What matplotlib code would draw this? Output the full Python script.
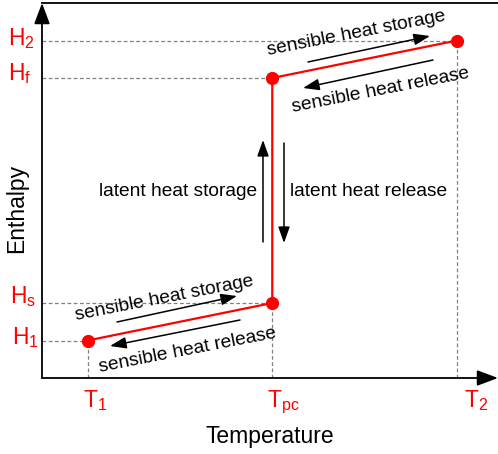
import matplotlib
matplotlib.use('Agg')
from matplotlib import pyplot as plt

plt.rcParams['font.family'] = ['Liberation Sans', 'DejaVu Sans']
plt.rcParams['mathtext.fontset'] = 'custom'
plt.rcParams['mathtext.rm'] = 'Liberation Sans'
plt.rcParams['mathtext.it'] = 'Liberation Sans'

# state points (temperature, enthalpy)
temps = [1.0, 5.05, 5.05, 9.1]
enthalpy = [1.0, 2.0, 8.0, 9.0]
x_ticks = [1.0, 5.05, 9.1]
x_labels = ['T$_1$', 'T$_{pc}$', 'T$_2$']
y_ticks = [1.0, 2.0, 8.0, 9.0]
y_labels = ['H$_1$', 'H$_s$', 'H$_f$', 'H$_2$']

fig = plt.figure(figsize=(4.98, 4.54), dpi=100)
ax = fig.add_axes([42/498, 76/454, 456/498, 375/454])
ax.set_xlim(0, 10)
ax.set_ylim(0, 10)

# dashed guide lines
for i in [0, 1, 2, 3]:
  ax.plot([0, temps[i]], [enthalpy[i], enthalpy[i]], ls=(0, (3, 2)), color='grey', lw=0.9)
for i in [0, 1, 3]:
  ax.plot([temps[i], temps[i]], [0, enthalpy[i]], ls=(0, (3, 2)), color='grey', lw=0.9)

ax.plot(temps, enthalpy, color='red', lw=1.6, zorder=3)
ax.plot([temps[0], temps[1], temps[2], temps[3]], [enthalpy[0], enthalpy[1], enthalpy[2], enthalpy[3]],
        ls='none', marker='o', ms=8.5, color='red', zorder=4)

# tick labels placed by hand (no tick marks)
ax.set_xticks([])
ax.set_yticks([])
x_off = [(-5, -29), (-5, -29), (7, -29)]
for t, lab, off in zip(x_ticks, x_labels, x_off):
  ax.annotate(lab, xy=(t, 0), xycoords=('data', 'axes fraction'), xytext=off, textcoords='offset pixels',
              color='red', fontsize=16.5, ha='left', va='baseline', annotation_clip=False)
y_off = [(-30, -4), (-32, 0), (-34, -2), (-34, -5)]
for h, lab, off in zip(y_ticks, y_labels, y_off):
  ax.annotate(lab, xy=(0, h), xycoords=('axes fraction', 'data'), xytext=off, textcoords='offset pixels',
              color='red', fontsize=16.5, ha='left', va='baseline', annotation_clip=False)

fig.text(270/498, 1 - 437/454, 'Temperature', fontsize=16.5, ha='center', va='center')
fig.text(17/498, 1 - 208/454, 'Enthalpy', fontsize=16.5, ha='center', va='center', rotation=90)

ax.spines['right'].set_visible(False)
ax.spines['left'].set_visible(False)
ax.spines['bottom'].set_visible(False)
ax.spines['top'].set_linewidth(1.3)

# axes with arrow heads
axis_arr = dict(arrowstyle='-|>,head_length=0.8,head_width=0.3', color='black', lw=1.3,
                mutation_scale=16, shrinkA=0, shrinkB=0)
ax.annotate('', xy=(0, 1.0), xytext=(0, 0), xycoords='axes fraction', arrowprops=axis_arr, annotation_clip=False)
ax.annotate('', xy=(1.0, 0), xytext=(0, 0), xycoords='axes fraction', arrowprops=axis_arr, annotation_clip=False)

# process arrows
arr = dict(arrowstyle='-|>,head_length=0.7,head_width=0.25', color='black', lw=1.1, mutation_scale=14, shrinkA=0, shrinkB=0)
def px(x, y):
  return ((x - 42) / 456 * 10, (378 - y) / 375 * 10)

ax.annotate('', xy=px(430, 36), xytext=px(308, 62), arrowprops=arr)
ax.annotate('', xy=px(303, 88), xytext=px(433, 60), arrowprops=arr)
ax.annotate('', xy=px(237, 296), xytext=px(117, 322), arrowprops=arr)
ax.annotate('', xy=px(110, 346), xytext=px(240, 320), arrowprops=arr)
ax.annotate('', xy=px(263, 140), xytext=px(263, 242), arrowprops=arr)
ax.annotate('', xy=px(284, 243), xytext=px(284, 143), arrowprops=arr)

fs = 13.8
ax.text(*px(356, 33), 'sensible heat storage', fontsize=fs, rotation=11, ha='center', va='center', rotation_mode='anchor')
ax.text(*px(381, 90), 'sensible heat release', fontsize=fs, rotation=11, ha='center', va='center', rotation_mode='anchor')
ax.text(*px(164, 298), 'sensible heat storage', fontsize=fs, rotation=11, ha='center', va='center', rotation_mode='anchor')
ax.text(*px(188, 350), 'sensible heat release', fontsize=fs, rotation=11, ha='center', va='center', rotation_mode='anchor')
ax.text(*px(257, 192), 'latent heat storage', fontsize=fs, ha='right', va='center')
ax.text(*px(290, 192), 'latent heat release', fontsize=fs, ha='left', va='center')

plt.savefig('out.png', dpi=100)
